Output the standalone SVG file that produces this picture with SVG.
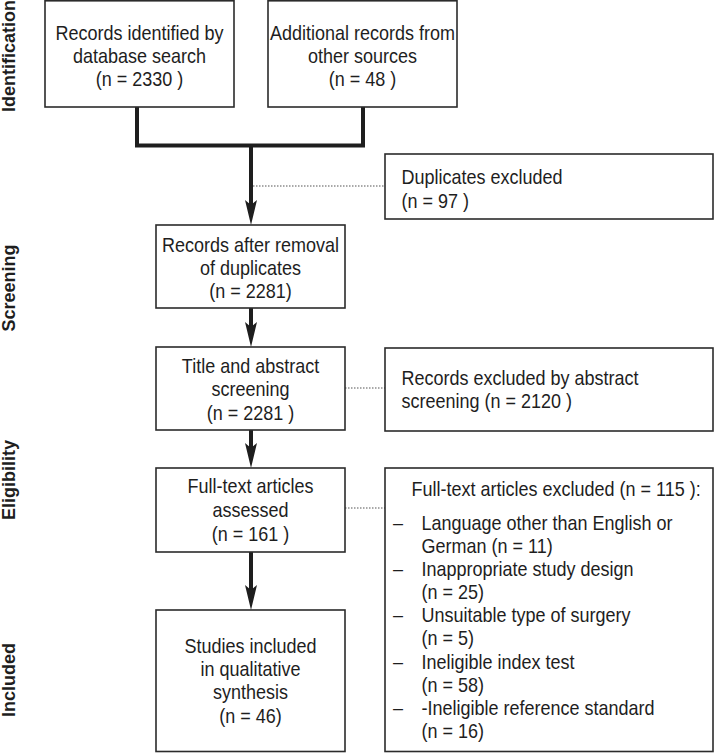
<svg xmlns="http://www.w3.org/2000/svg" width="714" height="753" viewBox="0 0 714 753">
<style>
.box{fill:#fff;stroke:#2b2b2b;stroke-width:1.6}
.t{font-family:"Liberation Sans",Arial,sans-serif;font-size:20px;fill:#1e1e1e}
.c{text-anchor:middle}
.side{font-family:"Liberation Sans",Arial,sans-serif;font-size:18px;font-weight:bold;fill:#1e1e1e;text-anchor:middle}
.flow{fill:none;stroke:#1e1e1e;stroke-width:4}
.dot{fill:none;stroke:#555;stroke-width:1.2;stroke-dasharray:1.5 1.5}
.head{fill:#1e1e1e}
</style>
<defs>
<polygon id="ah" points="0,0 -6,-25 0,-20 6,-25" class="head"/>
</defs>
<rect width="714" height="753" fill="#fff"/>
<g id="labels">
<text class="side" transform="translate(15 56) rotate(-90)">Identification</text>
<text class="side" transform="translate(15 288) rotate(-90)">Screening</text>
<text class="side" transform="translate(15 480) rotate(-90)">Eligibility</text>
<text class="side" transform="translate(15 680) rotate(-90)">Included</text>
</g>
<g id="connectors">
<path class="flow" d="M137,107 V145.5 H363 V107" stroke-linejoin="miter"/>
<path class="flow" d="M251,145.5 V206"/>
<use href="#ah" x="251" y="225"/>
<path class="flow" d="M251,308 V328"/>
<use href="#ah" x="251" y="347"/>
<path class="flow" d="M251,430 V449"/>
<use href="#ah" x="251" y="468"/>
<path class="flow" d="M251,552 V591"/>
<use href="#ah" x="251" y="610"/>
<path class="dot" d="M253,186 H385"/>
<path class="dot" d="M345,388 H385"/>
<path class="dot" d="M345,508 H385"/>
</g>
<g id="n1">
<rect class="box" x="45" y="0.8" width="189" height="106.2"/>
<g transform="translate(139.5 0) scale(0.9 1)">
<text class="t c" x="0" y="40">Records identified by</text>
<text class="t c" x="0" y="63">database search</text>
<text class="t c" x="0" y="86">(n = 2330 )</text>
</g>
</g>
<g id="n2">
<rect class="box" x="268" y="0.8" width="189" height="106.2"/>
<g transform="translate(362.5 0) scale(0.9 1)">
<text class="t c" x="0" y="40">Additional records from</text>
<text class="t c" x="0" y="63">other sources</text>
<text class="t c" x="0" y="86">(n = 48 )</text>
</g>
</g>
<g id="n_dup">
<rect class="box" x="385" y="154" width="328" height="65"/>
<g transform="translate(401.5 0) scale(0.9 1)">
<text class="t" x="0" y="184">Duplicates excluded</text>
<text class="t" x="0" y="208">(n = 97 )</text>
</g>
</g>
<g id="n3">
<rect class="box" x="156" y="225" width="189" height="83"/>
<g transform="translate(250.5 0) scale(0.9 1)">
<text class="t c" x="0" y="252">Records after removal</text>
<text class="t c" x="0" y="275">of duplicates</text>
<text class="t c" x="0" y="298">(n = 2281)</text>
</g>
</g>
<g id="n4">
<rect class="box" x="156" y="347" width="189" height="83"/>
<g transform="translate(250.5 0) scale(0.9 1)">
<text class="t c" x="0" y="373">Title and abstract</text>
<text class="t c" x="0" y="396">screening</text>
<text class="t c" x="0" y="420">(n = 2281 )</text>
</g>
</g>
<g id="n_abs">
<rect class="box" x="385" y="348" width="328" height="83"/>
<g transform="translate(401.5 0) scale(0.9 1)">
<text class="t" x="0" y="385.5">Records excluded by abstract</text>
<text class="t" x="0" y="408.5">screening (n = 2120 )</text>
</g>
</g>
<g id="n5">
<rect class="box" x="156" y="468" width="189" height="84"/>
<g transform="translate(250.5 0) scale(0.9 1)">
<text class="t c" x="0" y="493">Full-text articles</text>
<text class="t c" x="0" y="517">assessed</text>
<text class="t c" x="0" y="541">(n = 161 )</text>
</g>
</g>
<g id="n6">
<rect class="box" x="156" y="610" width="189" height="141.5"/>
<g transform="translate(250.5 0) scale(0.9 1)">
<text class="t c" x="0" y="653">Studies included</text>
<text class="t c" x="0" y="676">in qualitative</text>
<text class="t c" x="0" y="699">synthesis</text>
<text class="t c" x="0" y="723">(n = 46)</text>
</g>
</g>
<g id="n_ft">
<rect class="box" x="385" y="468" width="328" height="283.5"/>
<g transform="translate(411.5 0) scale(0.9 1)">
<text class="t" x="0" y="496">Full-text articles excluded (n = 115 ):</text>
</g>
<g transform="translate(393 0) scale(0.9 1)">
<text class="t" x="0" y="530">–</text>
<text class="t" x="0" y="576.5">–</text>
<text class="t" x="0" y="622.5">–</text>
<text class="t" x="0" y="669">–</text>
<text class="t" x="0" y="715">–</text>
</g>
<g transform="translate(421.5 0) scale(0.9 1)">
<text class="t" x="0" y="530">Language other than English or</text>
<text class="t" x="0" y="553">German (n = 11)</text>
<text class="t" x="0" y="576.5">Inappropriate study design</text>
<text class="t" x="0" y="599">(n = 25)</text>
<text class="t" x="0" y="622.5">Unsuitable type of surgery</text>
<text class="t" x="0" y="645.5">(n = 5)</text>
<text class="t" x="0" y="669">Ineligible index test</text>
<text class="t" x="0" y="692">(n = 58)</text>
<text class="t" x="0" y="715">-Ineligible reference standard</text>
<text class="t" x="0" y="738">(n = 16)</text>
</g>
</g>
</svg>
